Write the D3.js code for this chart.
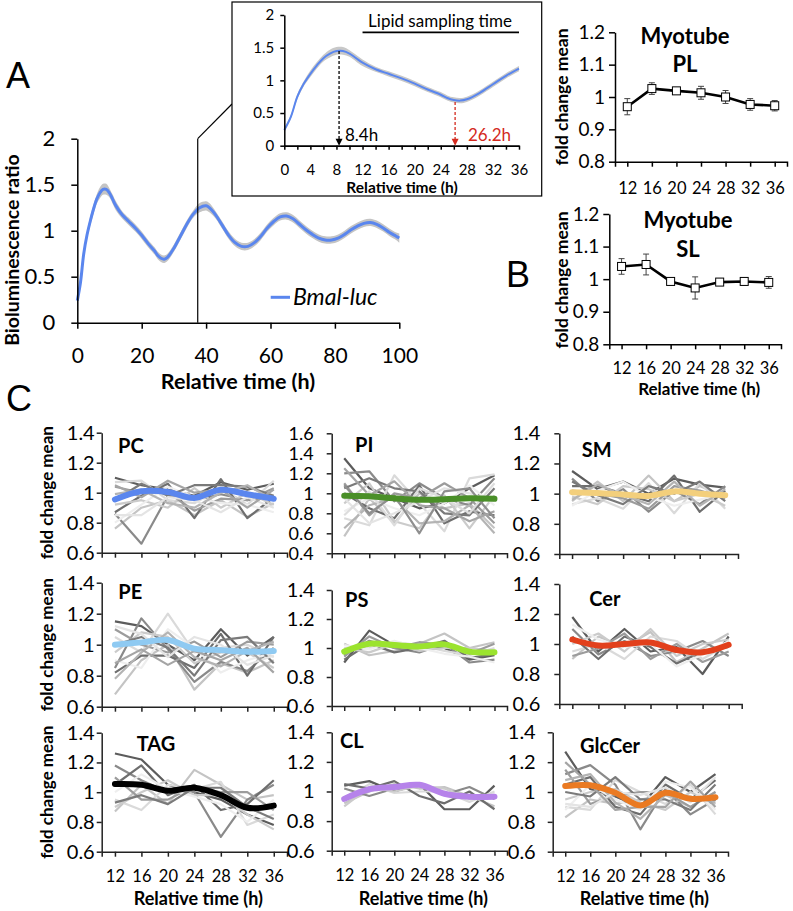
<!DOCTYPE html>
<html><head><meta charset="utf-8">
<script src="https://cdn.jsdelivr.net/npm/d3@7"></script>
<style>
html,body{margin:0;padding:0;background:#fff;}
svg{display:block;font-family:Lato,"Open Sans",sans-serif;}
</style></head><body>
<svg id="chart" width="793" height="911"></svg>
<script>
// ---------------- DATA ----------------
const bmalTime = [0,1,2,3,4,5,6,7,8,9,10,11,12,14,16,18,20,22,24,25,26,27,28,30,32,34,36,38,40,41,43,45,47,49,51,53,55,57,59,61,63,65,67,69,71,73,75,77,79,81,83,85,87,89,91,93,95,97,99,100];
const bmalValue = [0.24,0.44,0.75,0.95,1.10,1.23,1.34,1.41,1.45,1.45,1.41,1.34,1.27,1.17,1.10,1.03,0.95,0.86,0.78,0.73,0.70,0.69,0.71,0.81,0.94,1.07,1.18,1.25,1.27,1.25,1.17,1.06,0.95,0.87,0.83,0.83,0.87,0.94,1.03,1.10,1.15,1.16,1.13,1.07,1.01,0.96,0.92,0.90,0.90,0.92,0.96,1.01,1.05,1.08,1.09,1.07,1.03,0.98,0.94,0.92];
const bmalError = [0.03,0.03,0.04,0.04,0.05,0.05,0.05,0.06,0.06,0.06,0.05,0.05,0.05,0.04,0.04,0.04,0.04,0.04,0.04,0.04,0.04,0.04,0.04,0.04,0.04,0.04,0.04,0.05,0.05,0.05,0.04,0.04,0.04,0.04,0.04,0.04,0.04,0.04,0.04,0.04,0.04,0.04,0.04,0.04,0.04,0.04,0.04,0.04,0.04,0.04,0.04,0.04,0.04,0.04,0.04,0.04,0.04,0.04,0.04,0.05];
const mainXTicks = [0,20,40,60,80,100];
const mainYTicks = [0,0.5,1,1.5,2];
const zoomEdge = 37.4;
const insetXTicks = [0,4,8,12,16,20,24,28,32,36];
const insetMinorTicks = [2,6,10,14,18,22,26,30,34];
const insetYTicks = [0,0.5,1,1.5,2];
const peakTime = 8.4, peakValue = 1.45;
const troughTime = 26.2, troughValue = 0.67;
const samplingStart = 12, samplingEnd = 36;

const sampleTimes = [12,16,20,24,28,32,36];
const myoYTicks = [0.8,0.9,1,1.1,1.2];
const plMean = [0.970,1.026,1.019,1.013,1.000,0.977,0.973];
const plErr  = [0.025,0.018,0.008,0.020,0.020,0.018,0.016];
const slMean = [1.039,1.045,0.993,0.973,0.991,0.993,0.990];
const slErr  = [0.024,0.032,0.006,0.034,0.009,0.011,0.018];

const lipidYTicks = [0.6,0.8,1,1.2,1.4];
const piYTicks = [0.4,0.6,0.8,1,1.2,1.4,1.6];

const pcMean = [0.955,1.01,1.005,0.965,1.02,0.99,0.96];
const pcSpecies = [
 [1.10,1.05,1.02,0.98,1.07,1.02,1.06],[0.76,0.90,0.95,0.85,0.95,0.84,0.93],[0.86,0.66,0.98,0.95,0.99,0.95,0.97],
 [1.07,1.08,0.95,0.93,1.03,0.92,1.08],[0.87,0.98,1.06,0.83,1.09,0.83,0.97],[0.92,0.95,0.90,1.03,0.90,1.00,0.92],
 [1.04,1.00,1.00,0.88,0.96,0.95,1.03],[0.80,0.92,1.04,0.97,0.93,0.92,0.87],[0.95,1.06,0.98,1.05,1.05,1.04,0.98],
 [0.99,1.02,0.93,0.90,1.00,1.05,0.95],[0.85,0.85,0.97,0.95,0.87,0.97,0.90],[1.05,0.97,1.08,1.00,1.02,0.90,1.02]];
const piMean = [0.975,0.97,0.95,0.935,0.94,0.95,0.945];
const piSpecies = [
 [1.35,1.05,0.95,0.85,0.90,1.05,1.18],[0.57,0.95,0.70,1.00,0.85,0.90,0.65],[1.20,1.22,0.92,1.10,0.95,0.88,1.15],
 [0.75,0.68,1.18,0.90,0.62,1.15,1.19],[1.00,0.85,0.75,1.08,0.70,0.82,0.78],[0.90,1.10,0.72,0.65,0.98,0.65,0.98],
 [1.10,0.78,1.00,0.95,1.10,0.95,0.70],[0.82,0.95,0.85,0.78,0.90,1.08,0.88],[1.05,1.15,1.05,1.02,0.80,0.78,1.05],
 [0.65,0.88,0.95,0.70,0.72,0.88,0.60],[0.95,0.70,0.80,0.92,1.05,1.00,0.92],[1.25,0.98,1.12,0.88,0.85,0.72,0.82],
 [0.78,1.02,0.68,1.05,0.95,0.80,1.10],[1.08,0.80,0.98,0.60,1.02,1.05,0.75]];
const smMean = [1.01,1.005,0.995,0.985,1.015,1.0,0.99];
const smSpecies = [
 [1.15,1.03,1.08,1.00,1.10,1.06,1.04],[0.95,1.08,0.95,1.12,0.95,1.05,0.98],[1.10,0.95,1.03,0.88,1.02,0.93,1.05],
 [0.93,0.97,0.90,1.07,0.87,1.07,0.90],[1.05,1.05,1.00,0.95,1.12,0.88,1.02],[0.98,0.93,1.05,1.03,0.95,1.00,0.92],
 [1.02,1.00,0.97,0.90,1.05,1.02,0.97],[0.92,1.02,1.08,0.98,0.92,0.96,1.00],[1.08,0.99,0.93,1.05,1.00,1.08,0.95],
 [0.96,1.06,0.99,0.93,1.08,0.92,1.03]];
const peMean = [1.0,1.015,1.03,0.975,0.965,0.955,0.96];
const peSpecies = [
 [1.15,1.12,1.00,0.90,1.10,0.93,1.05],[0.68,0.90,1.00,0.71,0.88,0.82,0.90],[0.85,1.17,0.97,0.76,0.89,0.83,0.98],
 [1.05,0.95,1.20,0.95,0.98,1.00,0.92],[0.82,0.93,0.93,0.85,1.07,0.80,1.05],[0.95,1.08,1.05,0.88,0.95,0.95,0.85],
 [1.10,1.00,0.95,1.02,0.92,1.02,1.00],[0.90,0.85,1.10,0.98,0.82,0.90,0.95],[1.00,1.05,0.98,0.80,1.03,1.05,0.88],
 [0.78,0.95,1.08,0.92,0.86,0.96,1.02],[1.12,1.07,0.92,1.05,1.00,0.87,0.93],[0.88,0.97,0.87,0.96,0.90,0.98,0.82]];
const psMean = [0.975,1.03,1.02,1.01,1.025,0.975,0.97];
const psSpecies = [
 [0.90,1.12,1.02,1.00,1.00,0.92,0.95],[1.03,0.95,0.98,1.03,1.10,1.00,1.04],[0.95,1.05,1.00,0.97,1.03,0.90,0.92],
 [0.98,1.00,1.04,1.02,0.98,0.95,1.00],[0.92,1.03,0.97,1.00,1.05,0.93,0.96],[1.00,0.97,1.03,0.98,1.00,1.00,0.98],
 [0.94,1.08,1.00,1.04,1.02,0.96,1.03],[1.02,0.99,1.05,1.00,0.96,0.94,0.90]];
const cerMean = [1.03,0.99,1.0,1.01,0.96,0.945,0.995];
const cerSpecies = [
 [1.18,0.95,1.10,0.95,0.98,0.80,1.05],[0.90,1.05,0.98,1.08,0.88,0.97,1.07],[1.10,0.93,1.02,0.92,0.95,1.02,0.92],
 [0.95,1.00,0.90,1.05,1.02,0.90,1.00],[1.05,0.90,1.05,0.98,0.87,0.95,0.98],[1.00,1.07,0.95,1.10,0.92,1.00,1.03],
 [0.92,0.97,1.07,0.90,1.00,0.88,0.95],[1.13,1.03,0.98,1.00,0.85,0.93,1.02]];
const tagMean = [1.055,1.05,1.01,1.03,0.98,0.895,0.91];
const tagSpecies = [
 [1.26,1.22,1.05,1.00,0.95,0.85,0.78],[0.87,1.05,0.92,1.15,1.05,0.95,0.98],[1.18,1.08,1.00,1.00,0.70,0.95,1.05],
 [0.95,0.88,1.05,1.02,1.07,0.78,0.85],[1.05,1.18,0.98,1.05,0.88,0.92,1.08],[0.90,1.00,1.08,0.98,0.98,0.85,0.75],
 [1.10,0.95,0.95,1.04,1.00,1.00,0.88],[1.00,1.12,1.02,0.97,0.92,0.80,0.95],[0.93,0.98,0.92,1.03,1.03,0.90,0.82]];
const clMean = [0.95,1.015,1.03,1.045,0.985,0.965,0.965];
const clSpecies = [
 [1.04,1.07,1.00,1.05,0.88,0.88,1.04],[0.92,1.00,1.05,1.02,1.03,0.97,0.90],[1.02,0.97,1.02,1.05,0.98,1.03,0.95],
 [0.95,1.05,0.99,1.00,1.00,0.93,1.00],[1.05,1.02,1.07,0.97,0.92,1.00,0.88],[0.90,1.03,1.00,1.04,1.02,0.95,0.98]];
const glcMean = [1.04,1.045,0.995,0.91,0.995,0.955,0.965];
const glcSpecies = [
 [1.27,1.02,0.97,0.90,1.10,1.00,1.12],[0.83,0.95,0.92,0.95,0.98,0.90,1.00],[1.12,1.18,1.05,0.75,1.02,0.85,0.95],
 [0.90,0.88,1.08,1.00,0.92,1.05,0.85],[1.05,1.10,0.90,0.85,1.05,0.95,1.08],[0.95,1.00,1.02,0.93,0.88,1.00,0.92],
 [1.15,0.92,0.98,1.00,1.00,0.90,1.00],[0.88,1.05,0.95,0.88,1.07,1.03,0.88],[1.00,0.97,1.10,0.95,0.95,0.88,1.05],
 [1.08,1.12,0.93,0.82,0.98,0.97,0.93],[0.92,0.90,1.00,0.98,1.03,0.93,1.10],[1.20,1.05,0.88,0.90,0.90,1.07,0.90]];

const lipidNames = ['PC','PI','SM','PE','PS','Cer','TAG','CL','GlcCer'];
const lipidMeans = [pcMean,piMean,smMean,peMean,psMean,cerMean,tagMean,clMean,glcMean];
const lipidSpecies = [pcSpecies,piSpecies,smSpecies,peSpecies,psSpecies,cerSpecies,tagSpecies,clSpecies,glcSpecies];
const lipidColors = ['#5a86ee','#4a8f28','#f3cf7c','#8fcaf2','#9be32e','#e2401c','#000000','#b683ea','#ea7a22'];
const greyShades = ['#5c5c5c','#c4c4c4','#8a8a8a','#dadada','#6e6e6e','#cbcbcb','#9c9c9c','#eeeeee','#7a7a7a','#b4b4b4','#e4e4e4','#a5a5a5','#dddddd','#8f8f8f'];

// ---------------- LAYOUT ----------------
const svg = d3.select('#chart');
const FONT = 'Lato, "Open Sans", sans-serif';

function styleAxis(g, fs, color) {
  g.attr('font-family', null).attr('font-size', null);
  g.selectAll('path.domain').attr('stroke', color).attr('stroke-width', 1.5);
  g.selectAll('.tick line').attr('stroke', color).attr('stroke-width', 1.5);
  g.selectAll('.tick text').attr('fill', '#000').style('font-size', fs + 'px').style('font-family', FONT);
}
function txt(x, y, s, o) {
  o = o || {};
  const t = svg.append('text').attr('x', x).attr('y', y).text(s)
    .style('font-family', o.family || FONT).style('font-size', (o.size || 16) + 'px')
    .style('font-weight', o.weight || 400).attr('fill', o.fill || '#000')
    .attr('text-anchor', o.anchor || 'start');
  if (o.italic) t.style('font-style', 'italic');
  if (o.rotate) t.attr('transform', `rotate(-90,${x},${y})`);
  return t;
}
const fmt = d => String(d);

// Panel letters
txt(6, 88, 'A', {size: 36, family: '"Liberation Sans", Arial, sans-serif'});
txt(506, 287, 'B', {size: 36, family: '"Liberation Sans", Arial, sans-serif'});
txt(6, 411, 'C', {size: 36, family: '"Liberation Sans", Arial, sans-serif'});

// ---------- Panel A main ----------
(function(){
  const x = d3.scaleLinear().domain([0,100]).range([77.3,399.3]);
  const y = d3.scaleLinear().domain([0,2]).range([322.7,138.7]);
  const pts = bmalTime.map((t,i)=>({t, v:bmalValue[i], e:bmalError[i]}));
  const area = d3.area().x(d=>x(d.t)).y0(d=>y(d.v-d.e)).y1(d=>y(d.v+d.e)).curve(d3.curveCatmullRom);
  svg.append('path').datum(pts).attr('d', area).attr('fill', '#c4c4c4');
  const line = d3.line().x(d=>x(d.t)).y(d=>y(d.v)).curve(d3.curveCatmullRom);
  svg.append('path').datum(pts).attr('d', line).attr('fill','none').attr('stroke','#5a86ee').attr('stroke-width',3);

  const gx = svg.append('g').attr('transform',`translate(0,${y(0)})`)
    .call(d3.axisBottom(x).tickValues(mainXTicks).tickFormat(fmt).tickSize(6).tickSizeOuter(0).tickPadding(19));
  styleAxis(gx, 21, '#000');
  const gy = svg.append('g').attr('transform',`translate(${x(0)},0)`)
    .call(d3.axisLeft(y).tickValues(mainYTicks).tickFormat(fmt).tickSize(6).tickSizeOuter(0).tickPadding(16));
  styleAxis(gy, 22, '#000');

  // zoom region marker
  svg.append('line').attr('x1', x(zoomEdge)).attr('x2', x(zoomEdge)).attr('y1', y(0)).attr('y2', y(2))
    .attr('stroke','#000').attr('stroke-width',1.2);
  svg.append('line').attr('x1', x(zoomEdge)).attr('y1', y(2)).attr('x2', 232).attr('y2', 104)
    .attr('stroke','#000').attr('stroke-width',1.2);

  // legend
  svg.append('line').attr('x1',270.7).attr('x2',290).attr('y1',297.3).attr('y2',297.3)
    .attr('stroke','#5a86ee').attr('stroke-width',3);
  txt(293, 305, 'Bmal-luc', {size: 23, italic: true});

  txt(238, 389, 'Relative time (h)', {size: 21.5, weight: 700, anchor: 'middle'});
  txt(19, 250, 'Bioluminescence ratio', {size: 19.5, weight: 700, anchor: 'middle', rotate: true});
})();

// ---------- Panel A inset ----------
(function(){
  svg.append('rect').attr('x',232).attr('y',2).attr('width',309.7).attr('height',194)
    .attr('fill','#fff').attr('stroke','#000').attr('stroke-width',1.2);
  const x = d3.scaleLinear().domain([0,36]).range([284.3,519]);
  const y = d3.scaleLinear().domain([0,2]).range([145.7,15]);
  const pts = bmalTime.map((t,i)=>({t, v:bmalValue[i], e:bmalError[i]})).filter(d=>d.t<=36);
  const area = d3.area().x(d=>x(d.t)).y0(d=>y(d.v-d.e)).y1(d=>y(d.v+d.e)).curve(d3.curveCatmullRom);
  svg.append('path').datum(pts).attr('d', area).attr('fill', '#c8c8c8');
  const line = d3.line().x(d=>x(d.t)).y(d=>y(d.v)).curve(d3.curveCatmullRom);
  svg.append('path').datum(pts).attr('d', line).attr('fill','none').attr('stroke','#5a86ee').attr('stroke-width',2);

  const gxm = svg.append('g').attr('transform',`translate(0,${y(0)})`)
    .call(d3.axisBottom(x).tickValues(insetMinorTicks).tickFormat('').tickSize(4).tickSizeOuter(0));
  styleAxis(gxm, 10, '#000');
  const gx = svg.append('g').attr('transform',`translate(0,${y(0)})`)
    .call(d3.axisBottom(x).tickValues(insetXTicks).tickFormat(fmt).tickSize(4).tickSizeOuter(0).tickPadding(15));
  styleAxis(gx, 15, '#000');
  const gy = svg.append('g').attr('transform',`translate(${x(0)},0)`)
    .call(d3.axisLeft(y).tickValues(insetYTicks).tickFormat(fmt).tickSize(4).tickSizeOuter(0).tickPadding(6));
  styleAxis(gy, 15, '#000');

  // arrows
  function arrow(t, v, color) {
    svg.append('line').attr('x1',x(t)).attr('x2',x(t)).attr('y1',y(v)).attr('y2',y(0)-6)
      .attr('stroke',color).attr('stroke-width',1.3).attr('stroke-dasharray','3,2');
    svg.append('path').attr('d',`M${x(t)-3.5},${y(0)-7}L${x(t)+3.5},${y(0)-7}L${x(t)},${y(0)}Z`).attr('fill',color);
  }
  arrow(peakTime, peakValue, '#000');
  arrow(troughTime, troughValue, '#d42a1e');
  txt(345, 141, peakTime + 'h', {size: 17});
  txt(468, 141, troughTime + 'h', {size: 17, fill: '#d42a1e'});

  txt(440, 27, 'Lipid sampling time', {size: 17, anchor: 'middle'});
  svg.append('line').attr('x1', x(samplingStart)).attr('x2', x(samplingEnd)).attr('y1',32.3).attr('y2',32.3)
    .attr('stroke','#000').attr('stroke-width',1.8);
  txt(402, 193, 'Relative time (h)', {size: 15.5, weight: 700, anchor: 'middle'});
})();

// ---------- Panel B ----------
function myoPanel(L, mean, err, title1, title2, showXTitle) {
  const x = d3.scalePoint().domain(sampleTimes).range([L.ax, L.xe]).padding(0.5);
  const y = d3.scaleLinear().domain([0.8,1.2]).range([L.yb, L.yt]);
  const gx = svg.append('g').attr('transform',`translate(0,${L.yb})`)
    .call(d3.axisBottom(x).tickFormat(fmt).tickSize(5).tickSizeOuter(5).tickPadding(L.xp));
  styleAxis(gx, 16.5, '#000');
  const gy = svg.append('g').attr('transform',`translate(${L.ax},0)`)
    .call(d3.axisLeft(y).tickValues(myoYTicks).tickFormat(fmt).tickSize(6).tickSizeOuter(0).tickPadding(4));
  styleAxis(gy, 19, '#000');
  const pts = sampleTimes.map((t,i)=>({t, v:mean[i], e:err[i]}));
  const eb = svg.append('g');
  pts.forEach(d=>{
    eb.append('line').attr('x1',x(d.t)).attr('x2',x(d.t)).attr('y1',y(d.v-d.e)).attr('y2',y(d.v+d.e)).attr('stroke','#444').attr('stroke-width',1);
    [d.v-d.e, d.v+d.e].forEach(v=>eb.append('line').attr('x1',x(d.t)-3).attr('x2',x(d.t)+3).attr('y1',y(v)).attr('y2',y(v)).attr('stroke','#444').attr('stroke-width',1));
  });
  svg.append('path').datum(pts).attr('d', d3.line().x(d=>x(d.t)).y(d=>y(d.v)))
    .attr('fill','none').attr('stroke','#000').attr('stroke-width',2.6);
  svg.append('g').selectAll('rect').data(pts).join('rect')
    .attr('x',d=>x(d.t)-4).attr('y',d=>y(d.v)-4).attr('width',8).attr('height',8)
    .attr('fill','#fff').attr('stroke','#000').attr('stroke-width',1);
  txt(L.tcx, L.t1y, title1, {size: 22, weight: 700, anchor: 'middle'});
  txt(L.tcx, L.t2y, title2, {size: 22, weight: 700, anchor: 'middle'});
  txt(L.ylx, L.ylc, 'fold change mean', {size: 17.5, weight: 700, anchor: 'middle', rotate: true});
  if (showXTitle) txt((L.ax + L.xe)/2 + 4, 395, 'Relative time (h)', {size: 17, weight: 700, anchor: 'middle'});
}
myoPanel({ax:615, xe:787, yt:32.3, yb:161.7, xp:16, tcx:685, t1y:44, t2y:72, ylx:568, ylc:97}, plMean, plErr, 'Myotube', 'PL', false);
myoPanel({ax:609.3, xe:781, yt:214, yb:344.3, xp:13, tcx:688, t1y:228, t2y:256.5, ylx:568, ylc:280}, slMean, slErr, 'Myotube', 'SL', true);

// ---------- Panel C ----------
const lipidLayout = [
  {ax:101.7, xe:287,   yt:432.7, yb:552.7, lg:2,  tx:118,   ty:452.7},
  {ax:331.7, xe:507,   yt:433.3, yb:553.3, lg:13, tx:355,   ty:451.7},
  {ax:559.3, xe:738,   yt:433.3, yb:554,   lg:14, tx:581.7, ty:456.7},
  {ax:101.7, xe:287,   yt:582.7, yb:706.7, lg:2,  tx:118.3, ty:599.3},
  {ax:331.7, xe:507,   yt:590,   yb:706,   lg:12, tx:345,   ty:606.7},
  {ax:559.3, xe:741.7, yt:584,   yb:704,   lg:14, tx:589.3, ty:606},
  {ax:101.7, xe:287,   yt:732.7, yb:851.7, lg:2,  tx:136.7, ty:750.7},
  {ax:331.7, xe:507,   yt:732.3, yb:850.7, lg:12, tx:340,   ty:748.3},
  {ax:552.7, xe:728,   yt:732.3, yb:851.7, lg:12, tx:580,   ty:752.7}
];
lipidNames.forEach((name, k) => {
  const L = lipidLayout[k];
  const isPI = name === 'PI';
  const ticks = isPI ? piYTicks : lipidYTicks;
  const x = d3.scalePoint().domain(sampleTimes).range([L.ax, L.xe]).padding(0.5);
  const y = d3.scaleLinear().domain([ticks[0], ticks[ticks.length-1]]).range([L.yb, L.yt]);
  const bottomRow = k >= 6;
  const gx = svg.append('g').attr('transform',`translate(0,${L.yb})`)
    .call(d3.axisBottom(x).tickFormat(bottomRow ? fmt : '').tickSize(5).tickSizeOuter(5).tickPadding(14));
  styleAxis(gx, 16.5, '#222');
  const gy = svg.append('g').attr('transform',`translate(${L.ax},0)`)
    .call(d3.axisLeft(y).tickValues(ticks).tickFormat(fmt).tickSize(5).tickSizeOuter(0).tickPadding(L.lg));
  styleAxis(gy, isPI ? 18 : 20, '#222');
  const line = d3.line().x((d,i)=>x(sampleTimes[i])).y(d=>y(d));
  svg.append('g').selectAll('path').data(lipidSpecies[k]).join('path')
    .attr('d', line).attr('fill','none').attr('stroke',(d,i)=>greyShades[i % greyShades.length])
    .attr('stroke-width',2.2).attr('stroke-linejoin','round');
  const smooth = d3.line().x((d,i)=>x(sampleTimes[i])).y(d=>y(d)).curve(d3.curveCatmullRom.alpha(0.5));
  svg.append('path').datum(lipidMeans[k]).attr('d', smooth).attr('fill','none')
    .attr('stroke', lipidColors[k]).attr('stroke-width',6).attr('stroke-linecap','round');
  txt(L.tx, L.ty, name, {size: 20, weight: 700});
  if (k % 3 === 0) txt(53, (L.yt + L.yb)/2, 'fold change mean', {size: 17, weight: 700, anchor: 'middle', rotate: true});
  if (bottomRow) txt((L.ax + L.xe)/2 + 4, 905, 'Relative time (h)', {size: 18, weight: 700, anchor: 'middle'});
});
</script>
</body></html>
